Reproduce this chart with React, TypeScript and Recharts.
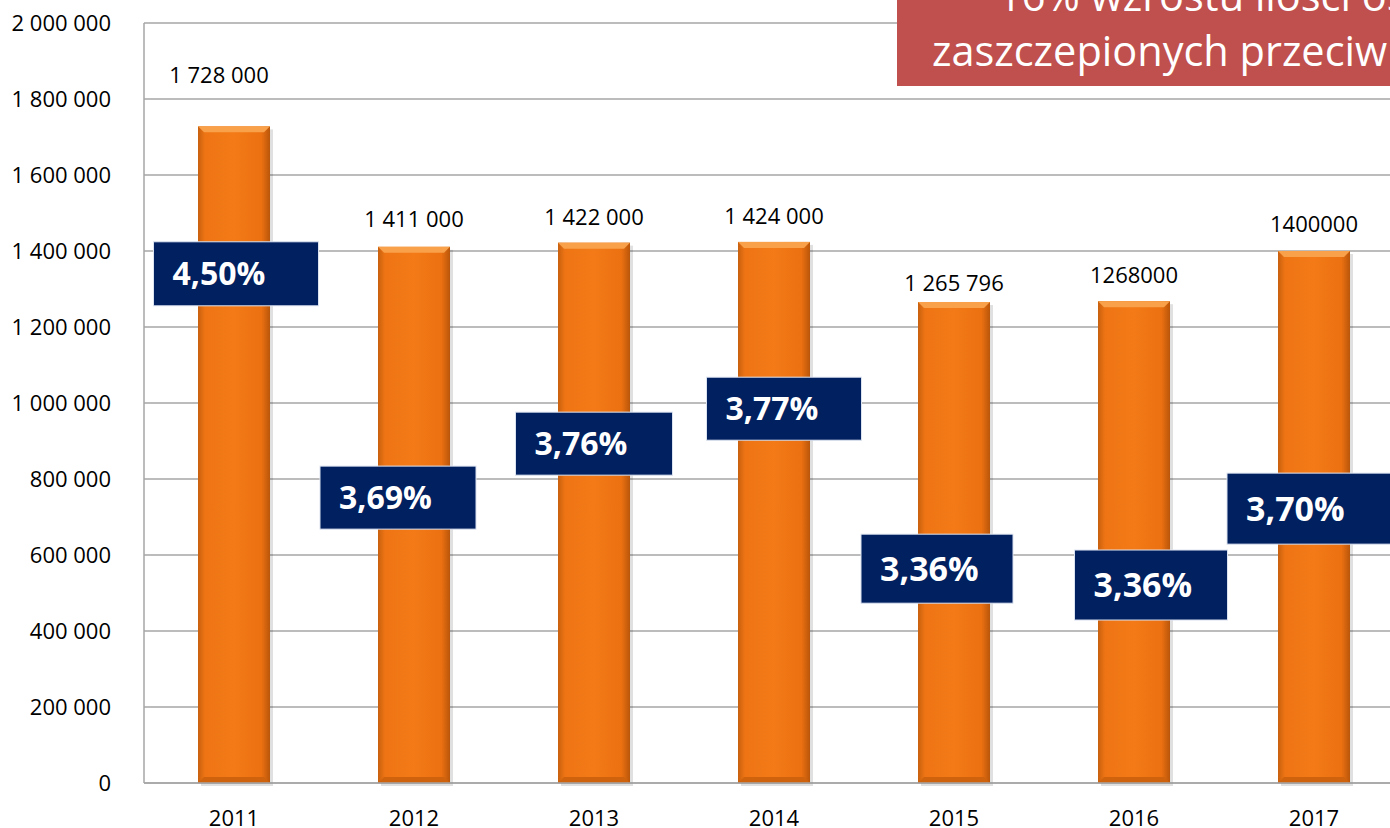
import {
  ComposedChart,
  Bar,
  Scatter,
  XAxis,
  YAxis,
  CartesianGrid,
  LabelList,
} from "recharts";

const years = ["2011", "2012", "2013", "2014", "2015", "2016", "2017"];
const vaccinated = [1728000, 1411000, 1422000, 1424000, 1265796, 1268000, 1400000];
const valueLabels = ["1 728 000", "1 411 000", "1 422 000", "1 424 000", "1 265 796", "1268000", "1400000"];
const rateLabels = ["4,50%", "3,69%", "3,76%", "3,77%", "3,36%", "3,36%", "3,70%"];
// level (in axis units) where each percentage box sits
const rateBoxLevel = [1340000, 751000, 893000, 985000, 564000, 521000, 722000];
const yTicks = [0, 200000, 400000, 600000, 800000, 1000000, 1200000, 1400000, 1600000, 1800000, 2000000];

const chartData = years.map((year, i) => ({
  year,
  value: vaccinated[i],
  label: valueLabels[i],
  rate: rateLabels[i],
  box: rateBoxLevel[i],
  idx: i,
}));

// per-box look (offset from bar centre, size, font)
const boxLook = [
  { dx: 2, w: 165, h: 64, fs: 32 },
  { dx: -16, w: 156, h: 63, fs: 32 },
  { dx: 0, w: 157, h: 63, fs: 32 },
  { dx: 10, w: 155, h: 63, fs: 32 },
  { dx: -17, w: 152, h: 69, fs: 34 },
  { dx: 17, w: 153, h: 70, fs: 34 },
  { dx: -5, w: 164, h: 71, fs: 34 },
];
const labelLift = [51, 28, 26, 26, 19, 26, 27];
const labelShift = [-15, 0, 0, 0, 0, 0, 0];

const FONT = "'Open Sans', 'Noto Sans', sans-serif";
const grid = "#A6A6A6";

const fmt = (v: number) => String(v).replace(/\B(?=(\d{3})+(?!\d))/g, " ");

function OrangeBar(props: any) {
  const { x, y, width, height } = props;
  if (!height || height <= 0) return null;
  const b = 6;
  return (
    <g>
      <rect x={x + 3} y={y + 3} width={width} height={height} fill="#000" opacity={0.12} />
      <rect x={x} y={y} width={width} height={height} fill="url(#barGrad)" />
      <polygon
        points={`${x},${y} ${x + width},${y} ${x + width - b},${y + b} ${x + b},${y + b}`}
        fill="#F8A04A"
      />
      <polygon
        points={`${x + b},${y + height - b} ${x + width - b},${y + height - b} ${x + width},${y + height} ${x},${y + height}`}
        fill="#CF620D"
      />
    </g>
  );
}

function RateBox(props: any) {
  const { cx, cy, payload } = props;
  if (cx == null || cy == null || !payload) return null;
  const s = boxLook[payload.idx];
  const left = cx + s.dx - s.w / 2;
  const top = cy - s.h / 2;
  return (
    <g>
      <rect x={left} y={top} width={s.w} height={s.h} fill="#002060" stroke="#DCE3F0" strokeWidth={1} />
      <text
        x={left + 19}
        y={cy}
        dy="0.36em"
        fill="#fff"
        fontFamily={FONT}
        fontWeight={700}
        fontSize={s.fs}
      >
        {payload.rate}
      </text>
    </g>
  );
}

function TopLabel(props: any) {
  const { x, y, width, index, value } = props;
  return (
    <text
      x={x + width / 2 + labelShift[index]}
      y={y - labelLift[index]}
      dy="0.36em"
      textAnchor="middle"
      fill="#000"
      fontFamily={FONT}
      fontSize={22}
    >
      {value}
    </text>
  );
}

export default function App() {
  return (
    <div
      style={{
        position: "absolute",
        left: 0,
        top: 0,
        width: 1390,
        height: 828,
        overflow: "hidden",
        background: "#fff",
      }}
    >
      <ComposedChart
        width={1420}
        height={828}
        data={chartData}
        margin={{ top: 23, right: 16, bottom: 0, left: 0 }}
      >
        <defs>
          <linearGradient id="barGrad" x1="0" y1="0" x2="1" y2="0">
            <stop offset="0%" stopColor="#C8600E" />
            <stop offset="10%" stopColor="#EF7514" />
            <stop offset="50%" stopColor="#F37A17" />
            <stop offset="88%" stopColor="#EC7111" />
            <stop offset="100%" stopColor="#B9560A" />
          </linearGradient>
        </defs>
        <CartesianGrid vertical={false} stroke={grid} strokeWidth={1.5} />
        <XAxis
          dataKey="year"
          height={45}
          axisLine={{ stroke: grid, strokeWidth: 1.5 }}
          tickLine={false}
          tickMargin={21}
          tick={{ fontSize: 22, fill: "#000", fontFamily: FONT }}
        />
        <YAxis
          width={144}
          domain={[0, 2000000]}
          ticks={yTicks}
          tickFormatter={fmt}
          axisLine={{ stroke: grid, strokeWidth: 1.5 }}
          tickLine={false}
          tickMargin={27}
          tick={{ fontSize: 22, fill: "#000", fontFamily: FONT }}
        />
        <Bar dataKey="value" barSize={72} shape={OrangeBar} isAnimationActive={false}>
          <LabelList dataKey="label" content={TopLabel} />
        </Bar>
        <Scatter dataKey="box" shape={RateBox} isAnimationActive={false} />
      </ComposedChart>
      <div
        style={{
          position: "absolute",
          left: 897,
          top: 0,
          width: 560,
          height: 86,
          background: "#C0504D",
          color: "#fff",
          fontFamily: FONT,
          fontSize: 41.5,
          lineHeight: "56px",
          overflow: "hidden",
        }}
      >
        <div style={{ position: "absolute", left: 101, top: -33, whiteSpace: "nowrap" }}>
          16% wzrostu ilości osób
        </div>
        <div style={{ position: "absolute", left: 35, top: 22, whiteSpace: "nowrap" }}>
          zaszczepionych przeciwko grypie
        </div>
      </div>
    </div>
  );
}
